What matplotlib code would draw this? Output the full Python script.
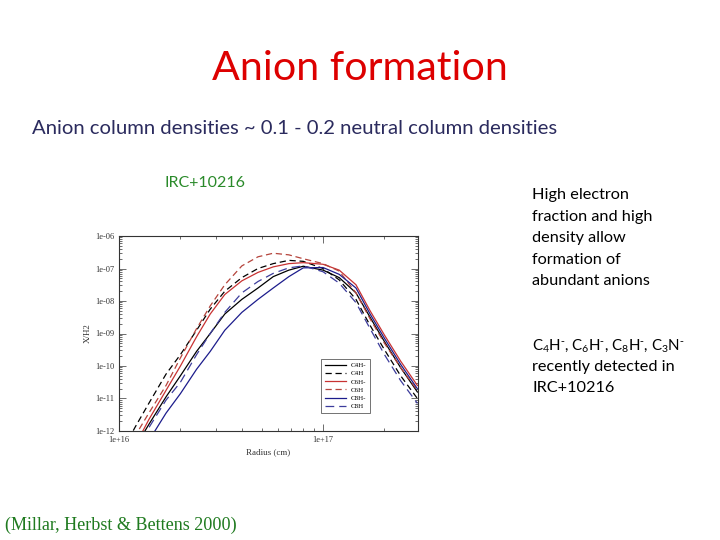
import numpy as np
import matplotlib
matplotlib.use("Agg")
import matplotlib.pyplot as plt
from matplotlib.ticker import LogLocator, NullFormatter, FixedLocator, FixedFormatter

# ---------------- data ----------------
radius_cm = [1.0e16, 1.2e16, 1.4e16, 1.7e16, 2.0e16, 2.4e16, 2.8e16, 3.3e16, 4.0e16, 4.8e16,
             5.7e16, 6.8e16, 8.0e16, 1.0e17, 1.2e17, 1.45e17, 1.7e17, 2.0e17, 2.4e17, 2.9e17]

labels = ["C4H-", "C4H", "C6H-", "C6H", "C8H-", "C8H"]

# log10 of fractional abundance X/H2
log_c4h_anion = [-13.2, -12.5, -11.8, -10.95, -10.3, -9.55, -9.0, -8.4, -7.95, -7.6,
                 -7.25, -7.05, -6.93, -7.05, -7.28, -7.75, -8.5, -9.25, -10.05, -10.8]
log_c4h = [-12.8, -11.88, -11.15, -10.25, -9.65, -8.9, -8.25, -7.7, -7.28, -7.0,
           -6.85, -6.75, -6.78, -7.0, -7.35, -7.95, -8.75, -9.5, -10.3, -11.0]
log_c6h_anion = [-13.2, -12.45, -11.65, -10.75, -10.0, -9.1, -8.4, -7.8, -7.38, -7.12,
                 -6.95, -6.85, -6.82, -6.87, -7.05, -7.5, -8.3, -9.05, -9.85, -10.6]
log_c6h = [-13.0, -12.15, -11.45, -10.6, -9.75, -8.85, -8.15, -7.5, -6.92, -6.64,
           -6.53, -6.58, -6.7, -6.85, -7.08, -7.75, -8.55, -9.3, -10.05, -10.75]
log_c8h_anion = [-14.0, -13.0, -12.3, -11.45, -10.85, -10.1, -9.55, -8.9, -8.35, -7.95,
                 -7.6, -7.25, -6.98, -6.97, -7.18, -7.6, -8.4, -9.15, -9.95, -10.7]
log_c8h = [-13.3, -12.6, -11.9, -11.05, -10.5, -9.65, -9.0, -8.35, -7.75, -7.4,
           -7.15, -6.98, -6.92, -7.1, -7.45, -8.05, -8.85, -9.65, -10.45, -11.15]

y_ticks = [1e-12, 1e-11, 1e-10, 1e-9, 1e-8, 1e-7, 1e-6]
y_tick_labels = ["1e-12", "1e-11", "1e-10", "1e-09", "1e-08", "1e-07", "1e-06"]
x_ticks = [1e16, 1e17]
x_tick_labels = ["1e+16", "1e+17"]

# ---------------- figure ----------------
fig = plt.figure(figsize=(7.2, 5.4), dpi=100)
fig.patch.set_facecolor("white")

sans = ["Lato", "DejaVu Sans"]
serif = ["Liberation Serif", "DejaVu Serif"]
plt.rcParams["mathtext.default"] = "regular"

fig.text(0.5 - 0.5 / 720, 1 - 68 / 540, "Anion formation", ha="center", va="center",
         fontsize=29.6, color="#dd0000", family=sans)
fig.text(32 / 720, 1 - 128 / 540, "Anion column densities ~ 0.1 - 0.2 neutral column densities",
         ha="left", va="center", fontsize=14.6, color="#2b2b5e", family=sans)
fig.text(164 / 720, 1 - 183 / 540, "IRC+10216", ha="left", va="center",
         fontsize=11.5, color="#2a8a2a", family=sans)

right_lines = ["High electron", "fraction and high", "density allow",
               "formation of", "abundant anions"]
for i, t in enumerate(right_lines):
    fig.text(532 / 720, 1 - (195 + i * 21.5) / 540, t, ha="left", va="center",
             fontsize=11.7, color="black", family=sans)

fig.text(532 / 720, 1 - 346 / 540,
         r"C$_4$H$^{\text{-}}$, C$_6$H$^{\text{-}}$, C$_8$H$^{\text{-}}$, C$_3$N$^{\text{-}}$",
         ha="left", va="center", fontsize=10.8, color="black", family=sans)
fig.text(532 / 720, 1 - 367 / 540, "recently detected in", ha="left", va="center",
         fontsize=11.7, color="black", family=sans)
fig.text(532 / 720, 1 - 388 / 540, "IRC+10216", ha="left", va="center",
         fontsize=11.7, color="black", family=sans)

fig.text(5 / 720, 1 - 525 / 540, "(Millar, Herbst & Bettens 2000)", ha="left", va="center",
         fontsize=13.1, color="#1f7a1f", family=serif)

# ---------------- chart ----------------
ax = fig.add_axes([119 / 720, 1 - 431 / 540, 299 / 720, 195 / 540])

series = [
    (log_c4h_anion, "#000000", "-"),
    (log_c4h, "#000000", (0, (5, 3))),
    (log_c6h_anion, "#c83232", "-"),
    (log_c6h, "#b5443c", (0, (5, 3))),
    (log_c8h_anion, "#1c1c8c", "-"),
    (log_c8h, "#3c3c9c", (0, (7, 4))),
]
for (vals, col, ls), lab in zip(series, labels):
    ax.plot(radius_cm, 10.0 ** np.array(vals), color=col, linestyle=ls, lw=0.9, label=lab)

ax.set_xscale("log")
ax.set_yscale("log")
ax.set_xlim(1e16, 2.92e17)
ax.set_ylim(1e-12, 1e-6)

ax.yaxis.set_major_locator(FixedLocator(y_ticks))
ax.yaxis.set_major_formatter(FixedFormatter(y_tick_labels))
ax.yaxis.set_minor_locator(LogLocator(base=10, subs=np.arange(2, 10) * 1.0, numticks=20))
ax.yaxis.set_minor_formatter(NullFormatter())
ax.xaxis.set_major_locator(FixedLocator(x_ticks))
ax.xaxis.set_major_formatter(FixedFormatter(x_tick_labels))
ax.xaxis.set_minor_locator(LogLocator(base=10, subs=np.arange(2, 10) * 1.0, numticks=20))
ax.xaxis.set_minor_formatter(NullFormatter())

ax.tick_params(which="both", direction="in", top=True, right=True, colors="#555555",
               labelcolor="#333333", labelsize=6, width=0.6)
ax.tick_params(which="major", length=5)
ax.tick_params(which="minor", length=2.5)
for lbl in ax.get_xticklabels() + ax.get_yticklabels():
    lbl.set_family(serif)
for sp in ax.spines.values():
    sp.set_linewidth(0.8)
    sp.set_color("#333333")

ax.set_xlabel("Radius (cm)", fontsize=6.5, family=serif, color="#333333", labelpad=3)
ax.set_ylabel("X/H2", fontsize=6.5, family=serif, color="#333333", labelpad=2)

leg = ax.legend(loc="lower right", bbox_to_anchor=(0.852, 0.075), prop={"family": serif, "size": 5},
                frameon=True, fancybox=False, handlelength=3.0, borderpad=0.5,
                labelspacing=0.35, handletextpad=0.8)
leg.get_frame().set_edgecolor("#333333")
leg.get_frame().set_linewidth(0.6)

fig.savefig("out.png", dpi=100, facecolor="white")
